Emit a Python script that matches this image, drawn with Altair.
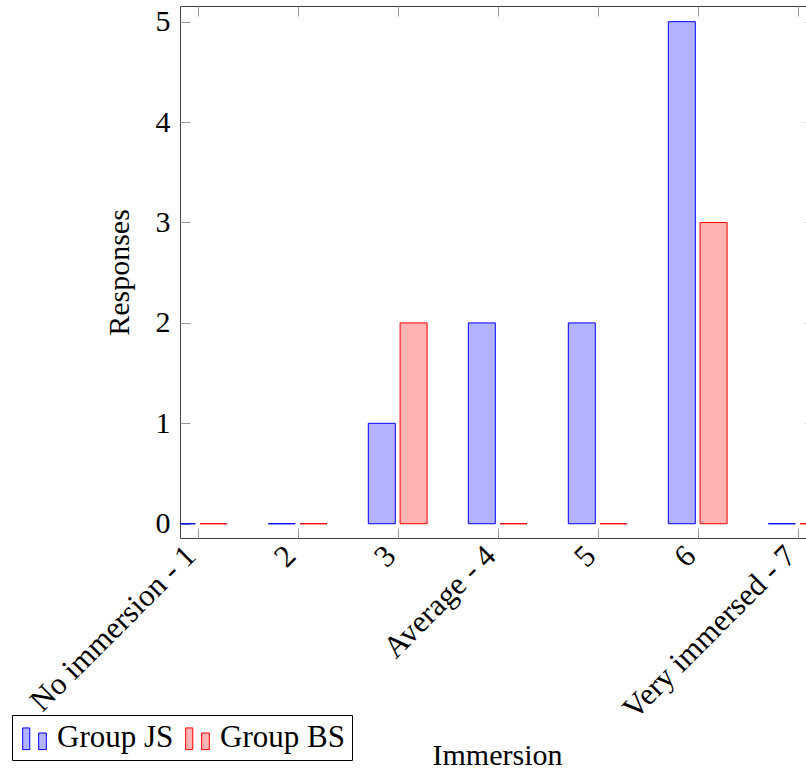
import altair as alt
import pandas as pd

categories = [1, 2, 3, 4, 5, 6, 7]
tick_labels = ["No immersion - 1", "2", "3", "Average - 4", "5", "6", "Very immersed - 7"]
group_js = [0, 0, 1, 2, 2, 5, 0]
group_bs = [0, 0, 2, 0, 0, 3, 0]
series_names = ["Group JS", "Group BS"]
y_ticks = [0, 1, 2, 3, 4, 5]

df = pd.DataFrame({
    "cat": categories * 2,
    "value": group_js + group_bs,
    "group": [series_names[0]] * len(categories) + [series_names[1]] * len(categories),
})

FONT = "'Liberation Serif', 'DejaVu Serif', serif"
FS = 30
label_expr = "[" + ",".join(f"'{l}'" for l in tick_labels) + "][datum.value - 1]"

xscale = alt.Scale(domain=[0.823, 7.083], nice=False, zero=False, padding=0)
yscale = alt.Scale(domain=[-0.142, 5.156], nice=False, zero=False, padding=0)
fill_scale = alt.Scale(domain=series_names, range=["#b3b3ff", "#ffb3b3"])
stroke_scale = alt.Scale(domain=series_names, range=["#0000ff", "#ff0000"])

icon = "M-1,-0.83 L-0.4,-0.83 L-0.4,1 L-1,1 Z M0.35,-0.4 L1,-0.4 L1,1 L0.35,1 Z"
legend = alt.Legend(
    title=None, orient="none", legendX=-168, legendY=709, direction="horizontal",
    symbolType=icon, symbolSize=560, symbolStrokeWidth=1, symbolOpacity=1,
    labelFont=FONT, labelFontSize=31, labelColor="black", labelOffset=7,
    strokeColor="black", fillColor="white", padding=7, columnPadding=8,
    cornerRadius=0, labelLimit=300,
)

TICK = "#9a9a9a"

bottom_axis = alt.Axis(
    orient="bottom", values=categories, labelExpr=label_expr, labelAngle=-45,
    labelAlign="right", labelBaseline="middle", labelPadding=13, labelOffset=-7,
    labelFont=FONT,
    labelFontSize=31, labelColor="black", labelOverlap=False, labelFlush=False,
    labelBound=False, labelLimit=400,
    tickSize=10, tickColor=TICK, tickWidth=1, offset=-10, domain=False, grid=False,
    title="Immersion", titleFont=FONT, titleFontSize=FS, titleFontWeight="normal",
    titleColor="black", titleX=317, titleY=236, titleAlign="center",
    titleBaseline="alphabetic", titleAnchor="middle",
)
left_axis = alt.Axis(
    orient="left", values=y_ticks, format="d", labelPadding=10, labelFont=FONT,
    labelFontSize=FS, labelColor="black", labelBaseline="middle",
    tickSize=10, tickColor=TICK, tickWidth=1, offset=-10, domain=False, grid=False,
    title="Responses", titleFont=FONT, titleFontSize=FS, titleFontWeight="normal",
    titleColor="black", titleX=-62, titleY=266, titleAngle=270, titleAlign="center",
    titleBaseline="alphabetic",
)
top_axis = alt.Axis(
    orient="top", values=categories, labels=False, tickSize=10, tickColor=TICK,
    tickWidth=1, offset=-10, domain=False, grid=False, title=None,
)
right_axis = alt.Axis(
    orient="right", values=y_ticks, labels=False, tickSize=1, tickColor=TICK,
    tickWidth=1, offset=-1, domain=False, grid=False, title=None,
)

base = alt.Chart(df)

js_layer = base.transform_filter(alt.datum.group == series_names[0]).mark_bar(
    size=27, xOffset=-15.9, strokeWidth=1, clip=True, fillOpacity=1
).encode(
    x=alt.X("cat:Q", scale=xscale, axis=bottom_axis),
    y=alt.Y("value:Q", scale=yscale, axis=left_axis),
    y2=alt.datum(0),
    fill=alt.Fill("group:N", scale=fill_scale, legend=legend),
    stroke=alt.Stroke("group:N", scale=stroke_scale, legend=legend),
)

bs_layer = base.transform_filter(alt.datum.group == series_names[1]).mark_bar(
    size=27, xOffset=15.9, strokeWidth=1, clip=True, fillOpacity=1
).encode(
    x=alt.X("cat:Q", scale=xscale, axis=top_axis),
    y=alt.Y("value:Q", scale=yscale, axis=right_axis),
    y2=alt.datum(0),
    fill=alt.Fill("group:N", scale=fill_scale, legend=legend),
    stroke=alt.Stroke("group:N", scale=stroke_scale, legend=legend),
)

chart = alt.layer(js_layer, bs_layer).resolve_axis(
    x="independent", y="independent"
).properties(
    width=626, height=532,
    autosize=alt.AutoSizeParams(type="none"),
    padding={"left": 180, "top": 6, "right": 0, "bottom": 231},
    background="white",
).configure_view(
    stroke="#404040", strokeWidth=1
)

chart.save("out.html", embed_options={"renderer": "svg", "actions": False})
